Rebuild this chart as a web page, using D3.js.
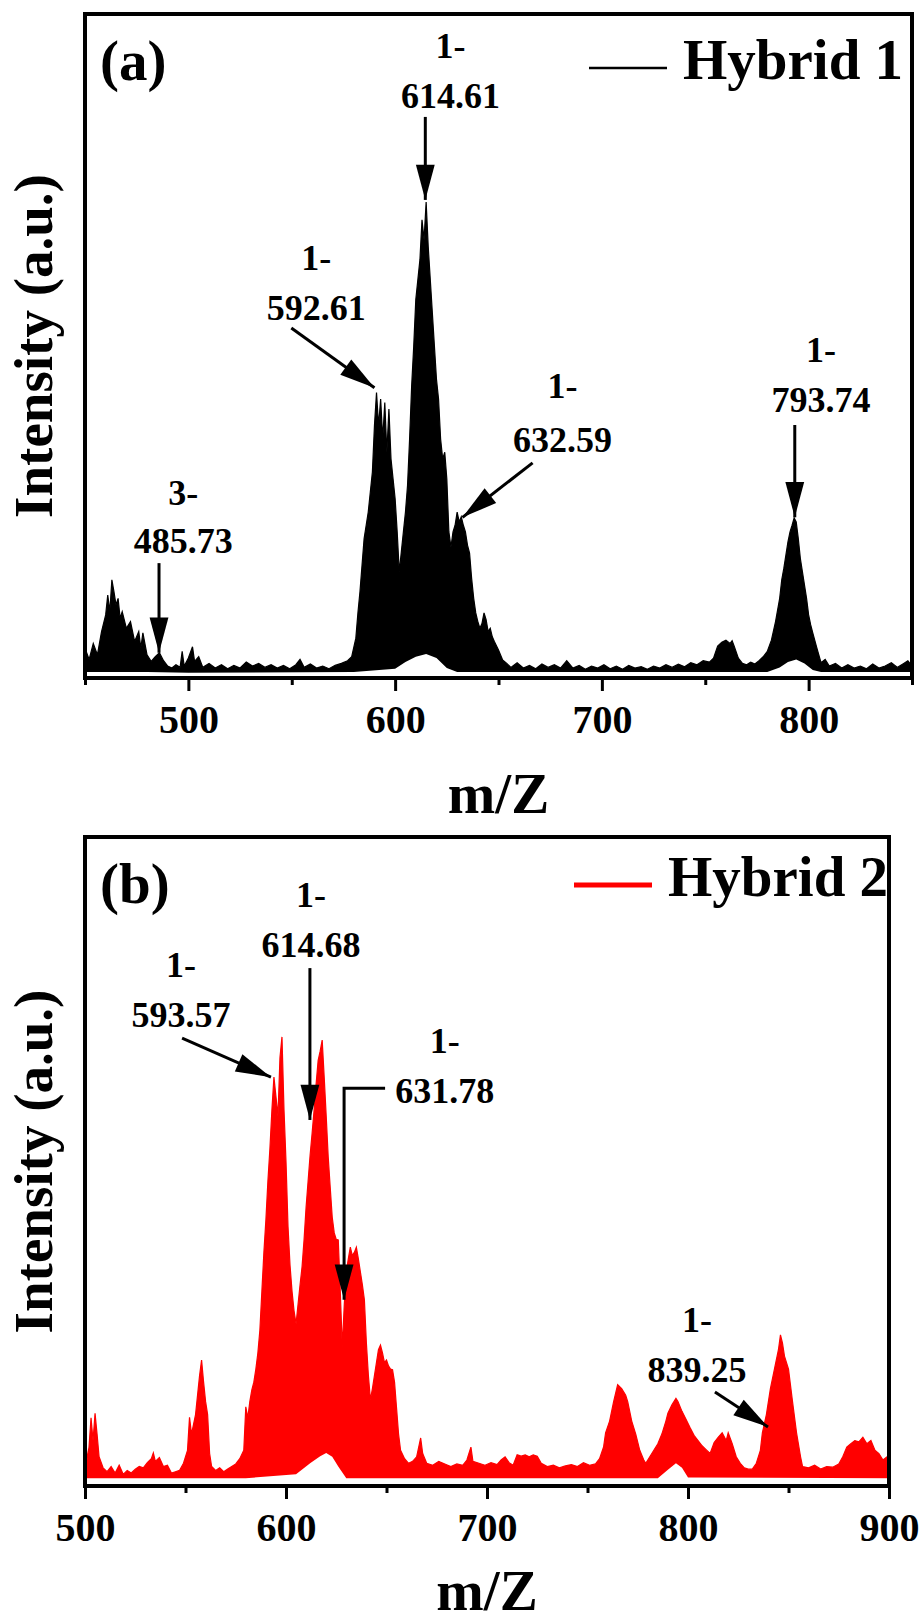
<!DOCTYPE html>
<html lang="en">
<head>
<meta charset="utf-8"/>
<title>Mass spectra</title>
<script src="https://d3js.org/d3.v7.min.js"></script>
<style>
  body { margin: 0; background: #fff; }
  svg text { font-family: "Liberation Serif", "Times New Roman", serif; font-weight: bold; fill: #000; }
</style>
</head>
<body>
<div id="chart"></div>
<script>
// ---- panel (a) Hybrid 1: upper envelope of the spectrum ----
const mzA = [450,452,454,456,458,460,461,462,463,464,465,466,467,468,470,472,474,476,477,478,480,482,484,486,488,490,492,494,496,497,498,500,502,503,505,507,510,513,516,519,522,525,528,531,534,537,540,543,546,549,552,554,556,559,562,565,568,571,574,577,579,581,582,583,584,585,586,587,588,589,590,591,592,593,594,595,596,597,598,599,600,601,602,603,604,605,606,607,608,609,610,611,612,613,614,615,616,617,618,619,620,621,622,623,624,625,626,627,628,629,630,631,632,633,634,635,636,637,638,639,640,641,642,643,644,645,646,647,648,650,652,654,656,659,662,665,668,671,674,677,680,683,686,689,692,695,698,701,704,707,710,713,716,719,722,725,728,731,734,737,740,743,746,749,752,754,756,758,760,762,763,764,766,768,770,772,774,776,778,780,782,784,786,787,788,789,790,791,792,793,794,795,796,797,798,799,800,801,802,804,806,808,810,813,816,819,822,825,828,831,834,837,840,843,846,848,850];
const hiA = [4.5,2.8,5.2,3.5,7.0,9.5,12.5,10.0,14.8,13.0,11.0,12.0,9.0,10.0,7.5,8.5,5.5,7.0,4.5,6.8,3.5,2.5,3.2,3.8,2.6,1.8,1.5,2.0,1.6,4.0,1.8,3.0,4.7,2.5,3.2,1.6,2.2,1.5,2.0,1.4,1.9,1.5,2.4,1.8,2.2,1.6,2.0,1.5,1.9,1.4,2.0,2.8,1.6,2.1,1.5,1.8,1.4,1.9,2.2,2.6,3.2,6.0,9.8,13,17,21,23,25,28,31,38,43,38,42,36,41.5,34,40.5,33,30,27,22,16,19,22,25,29,36,44,50,57,60,63,69,66,71.7,65,60,55,50,45,42,36,33,34,30,22,19.7,22,23,25,23.5,24.3,23,22,20,18.8,15,12,9.8,8.5,7.5,8.2,9.8,8.8,7.0,7.5,6.2,5.5,4.2,2.7,2.2,1.6,2.3,1.5,1.9,1.4,2.1,1.6,2.0,1.5,2.6,1.5,1.9,1.3,1.8,1.5,2.0,1.4,1.8,1.3,1.9,1.5,1.7,1.3,1.8,1.5,2.0,1.6,2.1,1.7,2.3,2.0,2.6,2.4,3.0,4.8,5.4,5.7,5.2,5.6,4.8,3.0,2.2,2.0,2.4,2.1,2.6,3.2,4.0,5.7,8.5,12.0,14.8,16.5,18.5,20.5,22.0,23.0,24.1,23.5,21.0,18.0,16.0,14.0,12.0,9.5,8.0,6.8,4.5,2.3,2.8,1.8,2.2,1.5,2.0,1.5,1.8,1.4,2.1,1.5,1.8,2.3,1.6,2.2,2.6,1.8];
// lower envelope (white gap under the trace)
const loMzA = [450,480,500,580,600,605,610,615,620,625,630,780,786,790,794,798,802,806,850];
const loA = [0.9,0.9,0.8,0.9,1.4,2.4,3.2,3.6,3.0,1.5,0.9,0.9,1.6,2.4,2.8,2.2,1.2,0.9,0.9];

// ---- panel (b) Hybrid 2 ----
const mzB = [500,501,502,503,504,505,506,507,509,511,513,515,517,519,521,523,525,527,529,531,533,534,535,537,539,541,543,545,547,549,551,552,553,554,555,556,557,558,559,560,561,562,563,565,567,569,571,573,575,577,579,580,581,582,583,584,585,586,587,588,589,590,591,592,593,594,595,596,597,598,599,600,601,602,603,604,605,606,607,608,609,610,611,612,613,614,615,616,617,618,619,620,621,622,623,624,625,626,627,628,629,630,631,632,633,634,635,636,637,638,639,640,641,642,643,644,645,646,647,648,649,650,651,652,653,654,655,656,657,659,661,663,665,667,668,670,673,676,679,682,685,688,690,692,693,696,699,702,705,707,709,711,713,715,717,719,721,723,725,727,730,733,736,739,742,745,748,751,754,756,758,759,761,763,765,767,769,770,772,774,776,778,779,781,783,785,787,789,790,792,794,795,797,799,801,803,805,807,809,811,813,815,817,819,820,822,824,826,828,830,832,834,836,837,839,841,843,845,846,847,848,850,852,854,856,857,860,863,866,869,872,875,877,879,881,883,885,887,889,891,893,895,897,899,900];
const hiB = [10.5,4,6,10.5,7,11.2,8,4.5,2.8,2.2,3.0,2.0,3.2,1.8,2.4,2.0,2.6,3.0,2.8,3.6,4.2,5.1,3.8,4.4,3.0,3.2,2.0,2.2,2.4,3.5,5.5,10.6,8,9.5,11,14,17,19.4,16,13,11,5,3,2.4,2.8,2.2,2.6,3.0,3.4,4.2,5.5,12.2,10.5,13,14.8,16,18,20.5,24,30,36,41,47,52,58,63,60,57,66,69.2,58,50,40,34,30,27,25,28,31,33.8,38,43,47,51,54.4,58,62,65.6,67,68.7,63,57,50.7,46,41.4,39,38,37.9,30,21.4,28,33,35,36.8,35.5,36,36.8,35,33,31,28.7,22,17,13.3,15,17,19,21,21.7,20.5,19,19.4,18.5,18,17.9,16,12,8,5.5,4.2,3.5,3.8,4.5,7.4,5,3.5,3.2,3.8,3.4,3.0,3.4,3.2,4,6.0,3.8,3.5,3.2,3.6,3.3,4.0,4.5,3.6,3.2,4.8,4.6,4.8,4.5,4.8,4.6,3.5,3.0,3.2,2.8,3.1,3.3,3.0,3.6,3.2,3.4,4.2,6.0,8.2,10,13,15.6,15,14,13,10,8,5.5,4.0,3.5,4.5,5.5,6.5,8.0,10,11.2,12.5,13.5,13,11.5,10.3,9,7.8,7.0,6.2,5.6,5.0,6.7,7.5,8.2,7.0,8.2,6.5,4.5,3.5,2.8,2.6,2.6,3.5,5.5,8.2,11,15,18,21,23.3,22,20,18,13,8.2,4.5,3.0,2.8,3.2,2.6,3.0,2.9,3.4,4.5,6.0,6.5,7.0,6.8,7.5,6.5,7.0,5.5,5.0,4.0,4.5,4.0];
const loMzB = [500,580,605,612,617,620,623,626,630,785,790,794,797,800,900];
const loB = [1.2,1.2,1.8,3.5,4.6,5.1,4.5,3.0,1.2,1.2,2.5,3.5,2.8,1.3,1.2];

// tick labels
const ticksA = [500, 600, 700, 800];
const minorA = [450, 550, 650, 750, 850];
const ticksB = [500, 600, 700, 800, 900];
const minorB = [550, 650, 750, 850];

// annotations: label lines, label anchor (mz, intensity of each line), arrow tail -> tip
const annA = [
  {lines: ["1-", "614.61"], lx: 626.8, ly: [93.4, 85.8], path: [[614.6, 84.5], [614.6, 72]]},
  {lines: ["1-", "592.61"], lx: 561.9, ly: [61.4, 53.9], path: [[549.8, 52.7], [590, 43.7]]},
  {lines: ["1-", "632.59"], lx: 681, ly: [42.2, 34.0], path: [[666.5, 32.4], [632.6, 24.2]]},
  {lines: ["1-", "793.74"], lx: 806, ly: [47.6, 40.1], path: [[793.3, 38.1], [793.3, 24.2]]},
  {lines: ["3-", "485.73"], lx: 497.5, ly: [26.1, 18.8], path: [[485.8, 17.3], [485.8, 3.8]]}
];
const annB = [
  {lines: ["1-", "614.68"], lx: 612.4, ly: [89.2, 81.5], path: [[611.9, 79.8], [611.9, 56.4]]},
  {lines: ["1-", "593.57"], lx: 547.8, ly: [78.4, 70.7], path: [[548.3, 69], [592.5, 63]]},
  {lines: ["1-", "631.78"], lx: 679, ly: [66.7, 59], path: [[649.3, 61.3], [628.9, 61.3], [628.9, 28.7]]},
  {lines: ["1-", "839.25"], lx: 804.5, ly: [23.7, 16], path: [[813.4, 14.5], [839.8, 9.1]]}
];

const svg = d3.select('#chart').append('svg')
  .attr('width', 924).attr('height', 1622);

svg.append('defs').append('marker')
  .attr('id', 'head')
  .attr('markerUnits', 'userSpaceOnUse')
  .attr('markerWidth', 40).attr('markerHeight', 40)
  .attr('viewBox', '-32 -10 34 20')
  .attr('refX', 0).attr('refY', 0)
  .attr('orient', 'auto')
  .append('path')
  .attr('d', 'M0,0 L-30,-8 L-30,8 Z')
  .attr('fill', '#000');

function drawPanel(o) {
  const x = d3.scaleLinear().domain(o.xDomain).range([o.left, o.right]);
  const y = d3.scaleLinear().domain([0, 100]).range([o.bottom, o.top]);
  const g = svg.append('g');

  const pts = o.mz.map((m, i) => [m, o.hi[i]]);
  g.append('path')
    .datum(pts)
    .attr('d', d3.area().x(d => x(d[0])).y0(y(0)).y1(d => y(d[1])))
    .attr('fill', o.color)
    .attr('stroke', o.color)
    .attr('stroke-width', 1.2)
    .attr('stroke-linejoin', 'miter');

  // white gap below the lower envelope
  const low = o.loMz.map((m, i) => [m, o.lo[i]]);
  g.append('path')
    .datum(low)
    .attr('d', d3.area().x(d => x(d[0])).y0(y(0)).y1(d => y(d[1])))
    .attr('fill', '#fff');

  // x axis: major + minor ticks, outward
  const ax = g.append('g').attr('transform', `translate(0,${o.bottom})`)
    .call(d3.axisBottom(x).tickValues(o.ticks).tickSize(13).tickPadding(14).tickFormat(d3.format('d')));
  ax.select('.domain').remove();
  ax.selectAll('line').attr('stroke', '#000').attr('stroke-width', 3);
  ax.selectAll('text').attr('font-size', 40).attr('dy', '0.71em');
  const mn = g.append('g').attr('transform', `translate(0,${o.bottom})`)
    .call(d3.axisBottom(x).tickValues(o.minor).tickSize(7).tickFormat(''));
  mn.select('.domain').remove();
  mn.selectAll('line').attr('stroke', '#000').attr('stroke-width', 3);

  // frame
  g.append('rect')
    .attr('x', o.left).attr('y', o.top)
    .attr('width', o.right - o.left).attr('height', o.bottom - o.top)
    .attr('fill', 'none').attr('stroke', '#000').attr('stroke-width', 4);

  // annotations
  o.ann.forEach(a => {
    a.lines.forEach((t, k) => {
      g.append('text')
        .attr('x', x(a.lx)).attr('y', y(a.ly[k]))
        .attr('text-anchor', 'middle')
        .attr('font-size', 36)
        .text(t);
    });
    g.append('path')
      .attr('d', d3.line().x(d => x(d[0])).y(d => y(d[1]))(a.path))
      .attr('fill', 'none').attr('stroke', '#000').attr('stroke-width', 3)
      .attr('marker-end', 'url(#head)');
  });

  // panel letter
  g.append('text').attr('x', o.left + 15).attr('y', o.top + 66)
    .attr('font-size', 57).text(o.tag);

  // legend
  g.append('line')
    .attr('x1', o.legX).attr('x2', o.legX + 78)
    .attr('y1', o.top + o.legDy).attr('y2', o.top + o.legDy)
    .attr('stroke', o.color).attr('stroke-width', o.legW);
  g.append('text').attr('x', o.legX + 94).attr('y', o.top + o.legDy + 11)
    .attr('font-size', 57).text(o.name);

  // axis titles
  g.append('text')
    .attr('x', (o.left + o.right) / 2).attr('y', o.bottom + o.titleDy)
    .attr('text-anchor', 'middle').attr('font-size', 57)
    .text('m/Z');
  g.append('text')
    .attr('transform', `translate(52,${(o.top + o.bottom) / 2}) rotate(-90)`)
    .attr('text-anchor', 'middle').attr('font-size', 55)
    .text('Intensity (a.u.)');
}

drawPanel({
  mz: mzA, hi: hiA, loMz: loMzA, lo: loA, color: '#000',
  xDomain: [450, 850], left: 85, right: 912, top: 14, bottom: 678,
  ticks: ticksA, minor: minorA, ann: annA, tag: '(a)', name: 'Hybrid 1',
  legX: 589, legDy: 54, legW: 2.5, titleDy: 135
});

drawPanel({
  mz: mzB, hi: hiB, loMz: loMzB, lo: loB, color: '#ff0000',
  xDomain: [500, 900], left: 85, right: 889, top: 837, bottom: 1486,
  ticks: ticksB, minor: minorB, ann: annB, tag: '(b)', name: 'Hybrid 2',
  legX: 574, legDy: 48, legW: 5, titleDy: 124
});
</script>
</body>
</html>
